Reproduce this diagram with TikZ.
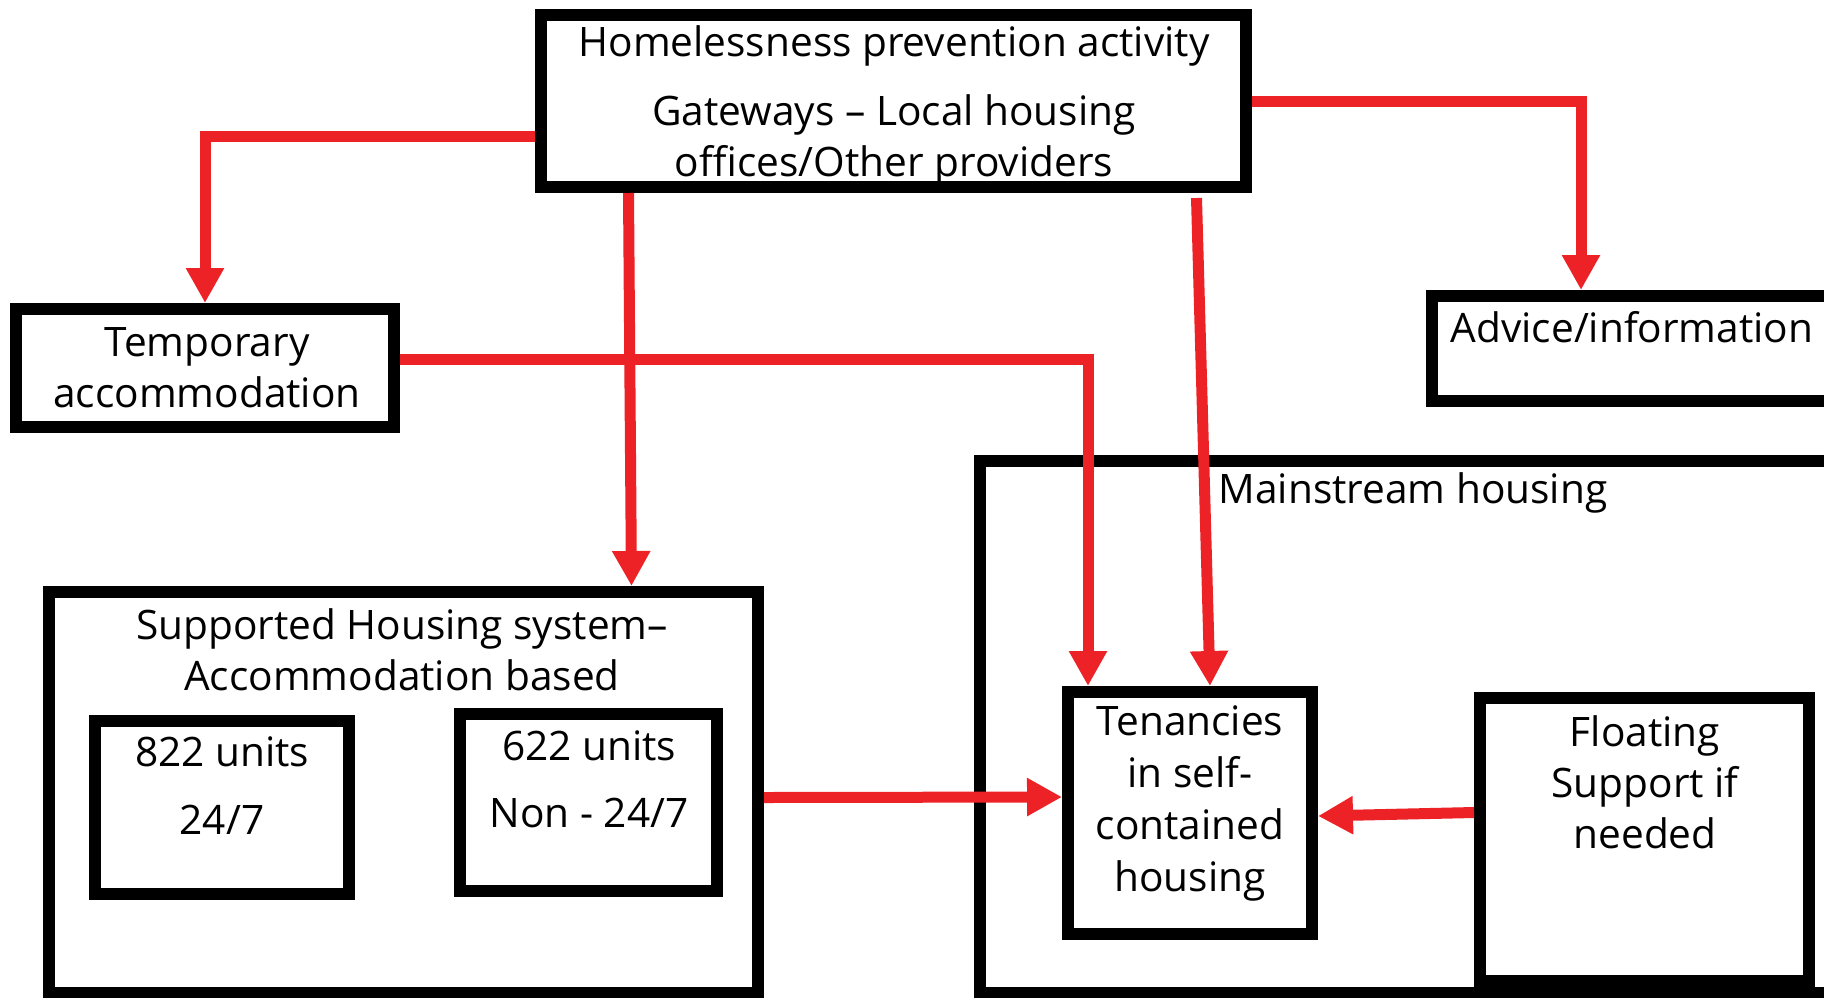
\documentclass[tikz,border=0pt]{standalone}
\usepackage{fontspec}
\setmainfont{Open Sans}
\usetikzlibrary{arrows.meta,calc}
\definecolor{arrowred}{RGB}{237,34,39}
\begin{document}
\begin{tikzpicture}[x=0.5pt,y=-0.5pt,
  box/.style={draw=black,line width=6pt,inner sep=0pt,line join=miter},
  txt/.style={font=\fontsize{20.3pt}{25.5pt}\selectfont,align=center,inner sep=0pt},
  arr/.style={draw=arrowred,line width=5.5pt,line join=miter,-{Triangle[width=18pt,length=17.5pt]}}]
\path[use as bounding box,clip] (0,0) rectangle (1824,997);
% boxes
\node[box,minimum width=352.5pt,minimum height=86pt] (top) at (893.5,101) {};
\node[box,minimum width=189pt,minimum height=59pt] (temp) at (205,368) {};
\node[box,minimum width=209pt,minimum height=52.5pt] (adv) at (1641,348.5) {};
\node[box,minimum width=435pt,minimum height=266pt] (main) at (1415,727) {};
\node[box,minimum width=354.5pt,minimum height=200.5pt] (sup) at (403.5,792.5) {};
\node[box,minimum width=127pt,minimum height=86.5pt] (u822) at (222,807.5) {};
\node[box,minimum width=128.5pt,minimum height=88.5pt] (u622) at (588.5,802.5) {};
\node[box,minimum width=122pt,minimum height=121pt] (ten) at (1190,813) {};
\node[box,minimum width=164.5pt,minimum height=141.5pt] (flo) at (1644.5,839.5) {};
% texts
\node[txt] (toptext) at (894,106) {Homelessness prevention activity\\[9pt]Gateways – Local housing\\offices/Other providers};
\node[txt] (temptext) at (207,368) {Temporary\\accommodation};
\node[txt] (advtext) at (1632,327) {Advice/information};
\node[txt] (maintext) at (1413,493) {Mainstream housing};
\node[txt] (suptext) at (402,650) {Supported Housing system–\\Accommodation based};
\node[txt] (u822text) at (222,786) {822 units\\[8.5pt]24/7};
\node[txt] (u622text) at (589,779.5) {622 units\\[8pt]Non - 24/7};
\node[txt,font=\fontsize{20.3pt}{26pt}\selectfont] (tentext) at (1190,803.5) {Tenancies\\in self-\\contained\\housing};
\node[txt] (flotext) at (1645,782.5) {Floating\\Support if\\needed};
% connectors
\draw[arr] ($(top.west)+(0,35)$) -| (temp.north);
\draw[arr] ($(top.south)+(-265,0)$) -- ($(sup.north)+(228,0)$);
\draw[arr] ($(top.south)+(303,5)$) -- ($(ten.north)+(20,0)$);
\draw[arr] (top.east) -| ($(adv.north)+(-60,0)$);
\draw[arr] ($(temp.east)+(0,-9)$) -| ($(ten.north)+(-102,0)$);
\draw[arr] ($(sup.east)+(0,5)$) -- ($(ten.west)+(0,-16)$);
\draw[arr] ($(flo.west)+(0,-27)$) -- ($(ten.east)+(0,3)$);
\end{tikzpicture}
\end{document}
